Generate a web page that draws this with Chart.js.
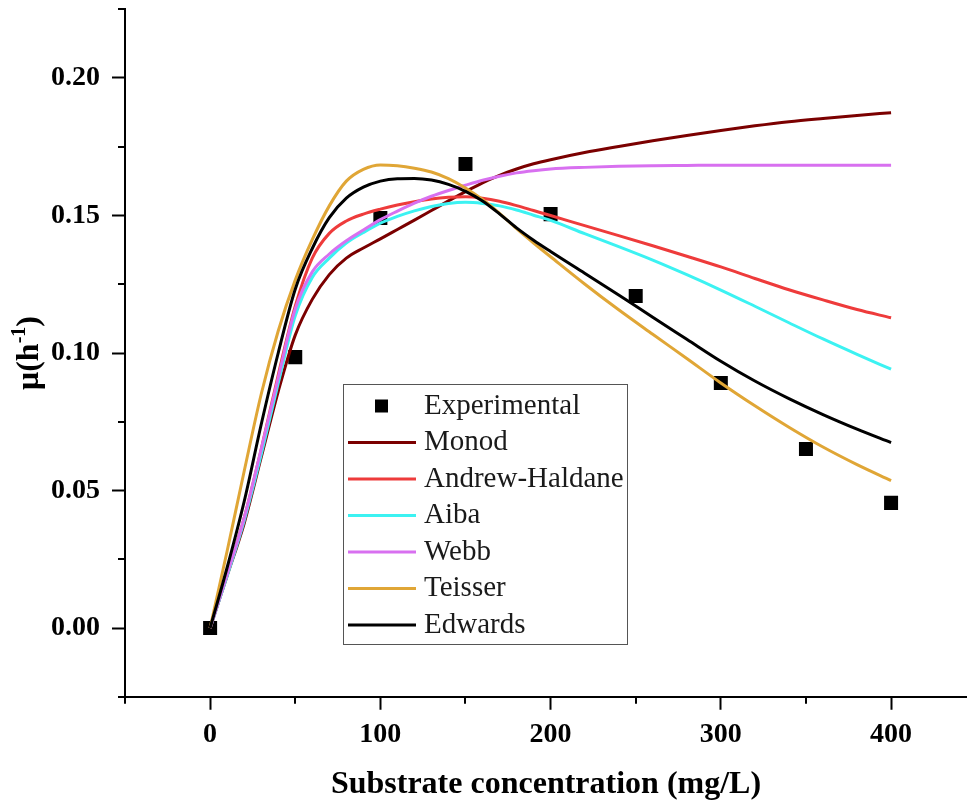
<!DOCTYPE html>
<html>
<head>
<meta charset="utf-8">
<script src="https://cdn.jsdelivr.net/npm/chart.js@4.4.1/dist/chart.umd.min.js"></script>
<style>
html,body{margin:0;padding:0;background:#fff;}
#wrap{position:relative;width:967px;height:804px;}
</style>
</head>
<body>
<div id="wrap"><canvas id="c" width="967" height="804"></canvas></div>
<script>
// ---- data ----
const expS  = [0, 50, 100, 150, 200, 250, 300, 350, 400];
const expMu = [0.000, 0.0985, 0.1491, 0.1687, 0.1505, 0.1207, 0.0891, 0.0651, 0.0455];

const modelS  = [0,10,20,30,40,50,60,70,80,90,100,110,120,130,140,150,160,170,180,190,200,220,240,260,280,300,320,340,360,380,400];
const monod   = [0,0.019,0.038,0.062,0.086,0.1065,0.1195,0.1285,0.1345,0.1382,0.1415,0.1449,0.1483,0.1518,0.1553,0.1587,0.1619,0.1646,0.1669,0.1688,0.1703,0.1729,0.1751,0.1772,0.1791,0.1809,0.1826,0.1841,0.1853,0.1864,0.1874];
const andrew  = [0,0.0195,0.040,0.065,0.092,0.117,0.1345,0.1435,0.148,0.1505,0.1523,0.1538,0.155,0.156,0.1566,0.1568,0.1563,0.1552,0.1536,0.1518,0.1500,0.1463,0.1427,0.1390,0.1352,0.1313,0.1271,0.1230,0.1193,0.1158,0.1128];
const aiba    = [0,0.019,0.039,0.063,0.089,0.1135,0.1275,0.1345,0.140,0.1438,0.1472,0.1497,0.1517,0.1533,0.1544,0.1548,0.1544,0.1535,0.1520,0.1501,0.1482,0.1434,0.1387,0.1338,0.1285,0.1229,0.1170,0.1110,0.1051,0.0995,0.0941];
const webb    = [0,0.0195,0.040,0.065,0.091,0.116,0.1295,0.1360,0.1408,0.1447,0.1485,0.1516,0.1545,0.1570,0.1591,0.1610,0.1628,0.1643,0.1655,0.1663,0.1669,0.1675,0.1679,0.1681,0.1682,0.1683,0.1683,0.1683,0.1683,0.1683,0.1683];
const teisser = [0,0.028,0.057,0.085,0.108,0.1265,0.1412,0.1535,0.1625,0.1668,0.1684,0.1681,0.1672,0.1658,0.1634,0.1600,0.1558,0.1508,0.1452,0.1400,0.1350,0.1251,0.1157,0.1068,0.0980,0.0891,0.0808,0.0730,0.0658,0.0594,0.0536];
const edwards = [0,0.022,0.046,0.074,0.100,0.1232,0.1380,0.1492,0.1563,0.1603,0.1625,0.1634,0.1635,0.1629,0.1613,0.1588,0.1553,0.1506,0.1455,0.1410,0.1369,0.1290,0.1211,0.1130,0.1050,0.0970,0.0898,0.0834,0.0776,0.0723,0.0674];

const seriesNames = ['Experimental','Monod','Andrew-Haldane','Aiba','Webb','Teisser','Edwards'];
const seriesColors = ['#000000','#7b0000','#ee3b3b','#3cf2f2','#d870f0','#e0a636','#000000'];

const xMajorTicks = [0, 100, 200, 300, 400];
const xMinorTicks = [-50, 50, 150, 250, 350];
const yMajorTicks = [0, 0.05, 0.10, 0.15, 0.20];
const yMinorTicks = [-0.025, 0.025, 0.075, 0.125, 0.175, 0.225];

const xTitle = 'Substrate concentration (mg/L)';
const yTitleMain = 'μ(h', yTitleSup = '-1', yTitleEnd = ')';

// ---- build ----
const toPts = (xs, ys) => xs.map((x, i) => ({x: x, y: ys[i]}));
const modelVals = [monod, andrew, aiba, webb, teisser, edwards];

const datasets = [{
  label: seriesNames[0],
  data: toPts(expS, expMu),
  showLine: false,
  pointStyle: 'rect',
  pointRadius: 9.9,
  pointBackgroundColor: seriesColors[0],
  pointBorderWidth: 0,
  order: 7
}];
modelVals.forEach((vals, i) => {
  datasets.push({
    label: seriesNames[i + 1],
    data: toPts(modelS, vals),
    showLine: true,
    borderColor: seriesColors[i + 1],
    borderWidth: 3,
    pointRadius: 0,
    cubicInterpolationMode: 'monotone',
    fill: false,
    order: 6 - i
  });
});

const serif = 'Liberation Serif, Times New Roman, serif';
Chart.defaults.font.family = serif;

const extras = {
  id: 'extras',
  afterDraw(chart) {
    const {ctx, scales: {x, y}, chartArea} = chart;
    ctx.save();
    // minor ticks
    ctx.strokeStyle = '#000';
    ctx.lineWidth = 2;
    xMinorTicks.forEach(v => {
      const px = Math.round(x.getPixelForValue(v));
      ctx.beginPath(); ctx.moveTo(px, chartArea.bottom); ctx.lineTo(px, chartArea.bottom + 7); ctx.stroke();
    });
    yMinorTicks.forEach(v => {
      const py = Math.round(y.getPixelForValue(v));
      ctx.beginPath(); ctx.moveTo(chartArea.left, py); ctx.lineTo(chartArea.left - 7, py); ctx.stroke();
    });
    // y title with superscript
    ctx.fillStyle = '#000';
    ctx.textBaseline = 'alphabetic';
    const fMain = 'bold 32px ' + serif, fSup = 'bold 20px ' + serif;
    ctx.font = fMain; const w1 = ctx.measureText(yTitleMain).width; const w3 = ctx.measureText(yTitleEnd).width;
    ctx.font = fSup; const w2 = ctx.measureText(yTitleSup).width;
    const tw = w1 + w2 + w3;
    const cy = (chartArea.top + chartArea.bottom) / 2;
    ctx.translate(38, cy);
    ctx.rotate(-Math.PI / 2);
    let sx = -tw / 2;
    ctx.font = fMain; ctx.fillText(yTitleMain, sx, 0); sx += w1;
    ctx.font = fSup; ctx.fillText(yTitleSup, sx, -13); sx += w2;
    ctx.font = fMain; ctx.fillText(yTitleEnd, sx, 0);
    ctx.restore();

    // legend
    ctx.save();
    const bx = 343.5, by = 384.5, bw = 284, bh = 260;
    ctx.fillStyle = '#fff';
    ctx.fillRect(bx, by, bw, bh);
    ctx.strokeStyle = '#555'; ctx.lineWidth = 1;
    ctx.strokeRect(bx, by, bw, bh);
    ctx.font = '29px ' + serif;
    ctx.textBaseline = 'middle';
    chart.data.datasets.forEach((ds, i) => {
      const ry = 406 + i * 36.5;
      if (i === 0) {
        ctx.fillStyle = seriesColors[0];
        ctx.fillRect(375, ry - 6.5, 13, 13);
      } else {
        ctx.strokeStyle = ds.borderColor; ctx.lineWidth = 3;
        ctx.beginPath(); ctx.moveTo(348, ry); ctx.lineTo(416, ry); ctx.stroke();
      }
      ctx.fillStyle = '#1a1a1a';
      ctx.fillText(ds.label, 424, ry);
    });
    ctx.restore();
  }
};

new Chart(document.getElementById('c'), {
  type: 'scatter',
  data: {datasets},
  options: {
    responsive: false,
    animation: false,
    devicePixelRatio: 1,
    layout: {autoPadding: false, padding: {top: 9.25, left: 0, right: 0, bottom: 0}},
    plugins: {legend: {display: false}, tooltip: {enabled: false}},
    scales: {
      x: {
        type: 'linear', min: -50, max: 444.6,
        afterBuildTicks: s => { s.ticks = xMajorTicks.map(v => ({value: v})); },
        afterFit: s => { s.height = 804 - 696.75; s.paddingLeft = 0; s.paddingRight = 0; },
        grid: {display: true, drawOnChartArea: false, drawTicks: true, tickLength: 13, tickWidth: 2, tickColor: '#000'},
        border: {display: true, color: '#000', width: 2},
        ticks: {color: '#000', padding: 8, maxRotation: 0, font: {family: serif, size: 28, weight: 'bold'}, callback: v => String(v)},
        title: {display: true, text: xTitle, color: '#000', padding: {top: 0, bottom: 0}, font: {family: serif, size: 32, weight: 'bold'}}
      },
      y: {
        type: 'linear', min: -0.025, max: 0.225,
        afterBuildTicks: s => { s.ticks = yMajorTicks.map(v => ({value: v})); },
        afterFit: s => { s.width = 125; s.paddingTop = 0; s.paddingBottom = 0; },
        grid: {display: true, drawOnChartArea: false, drawTicks: true, tickLength: 13, tickWidth: 2, tickColor: '#000'},
        border: {display: true, color: '#000', width: 2},
        ticks: {color: '#000', padding: 12, font: {family: serif, size: 28, weight: 'bold'}, callback: v => v.toFixed(2)}
      }
    }
  },
  plugins: [extras]
});
</script>
</body>
</html>
